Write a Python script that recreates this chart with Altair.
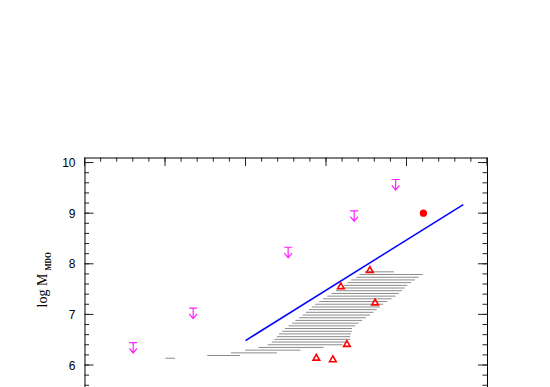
import altair as alt
import pandas as pd

# ---- data ----
# magenta upper limits (value = top bar of the arrow)
lim_x = [1.721, 1.870, 2.106, 2.270, 2.373]
lim_y = [6.444, 7.122, 8.327, 9.047, 9.665]
# red open triangles
tri_x = [2.309, 2.237, 2.322, 2.252, 2.176, 2.217]
tri_y = [7.887, 7.564, 7.244, 6.424, 6.153, 6.122]
# red filled circle
dot_x = [2.442]
dot_y = [9.0]
# blue relation
fit_x = [2.0, 2.541]
fit_y = [6.483, 9.171]
# grey hatched region: one horizontal segment per row
hatch_y = [7.841, 7.788, 7.734, 7.681, 7.628, 7.574, 7.521, 7.468, 7.414, 7.361,
           7.308, 7.254, 7.201, 7.147, 7.094, 7.041, 6.987, 6.934, 6.881, 6.827,
           6.774, 6.721, 6.667, 6.614, 6.560, 6.507, 6.454, 6.400, 6.347, 6.294,
           6.240, 6.187, 6.134]
hatch_x1 = [2.297, 2.283, 2.275, 2.263, 2.254, 2.245, 2.236, 2.225, 2.214, 2.203,
            2.193, 2.183, 2.173, 2.165, 2.158, 2.150, 2.142, 2.133, 2.124, 2.116,
            2.107, 2.098, 2.091, 2.083, 2.078, 2.072, 2.065, 2.055, 2.032, 1.999,
            1.964, 1.905, 1.801]
hatch_x2 = [2.369, 2.440, 2.430, 2.421, 2.411, 2.402, 2.396, 2.389, 2.381, 2.373,
            2.363, 2.352, 2.342, 2.334, 2.326, 2.318, 2.309, 2.299, 2.290, 2.281,
            2.273, 2.265, 2.264, 2.262, 2.260, 2.260, 2.251, 2.241, 2.194, 2.137,
            2.078, 1.986, 1.825]
# axis ticks
y_major = [6, 7, 8, 9, 10]
y_labels = [6, 7, 8, 9, 10]
x_major = [1.6, 1.8, 2.0, 2.2, 2.4, 2.6]

X_DOM = [1.6, 2.6]
Y_DOM = [5.2, 10.1]
W = 402.5
H = 248

y_minor = [round(Y_DOM[0] + 0.2 * i, 2) for i in range(25)]
x_minor = [round(X_DOM[0] + 0.04 * i, 2) for i in range(26)]

xs = alt.Scale(domain=X_DOM, nice=False, zero=False)
ys = alt.Scale(domain=Y_DOM, nice=False, zero=False)
YAX = alt.Axis(values=y_labels, ticks=False, tickSize=0, domain=False, grid=False,
               labelPadding=9.5, labelFont="Liberation Sans", labelFontSize=12,
               labelColor="black", title=None)


def X(f):
    return alt.X(f, type="quantitative", scale=xs, axis=None)


def Y(f):
    return alt.Y(f, type="quantitative", scale=ys, axis=YAX)


hatch = alt.Chart(pd.DataFrame({"x": hatch_x1, "x2": hatch_x2, "y": hatch_y})).mark_rule(
    color="#8c8c8c", strokeWidth=1
).encode(x=X("x"), x2="x2", y=Y("y"))

fit = alt.Chart(pd.DataFrame({"x": fit_x, "y": fit_y})).mark_line(
    color="#0000ff", strokeWidth=1.5
).encode(x=X("x"), y=Y("y"))

arrow_path = "M-0.73,0L0.73,0M0,0L0,1.9M-0.7,1.05L0,1.9L0.7,1.05"
limits = alt.Chart(pd.DataFrame({"x": lim_x, "y": lim_y})).mark_point(
    shape=arrow_path, size=121, filled=False, stroke="#ff22ff", strokeWidth=1.2, opacity=1
).encode(x=X("x"), y=Y("y"))

tris = alt.Chart(pd.DataFrame({"x": tri_x, "y": tri_y})).mark_point(
    shape="triangle-up", size=44, filled=False, stroke="#ff0000", strokeWidth=1.6, opacity=1
).encode(x=X("x"), y=Y("y"))

dot = alt.Chart(pd.DataFrame({"x": dot_x, "y": dot_y})).mark_point(
    shape="circle", size=52, filled=True, color="#ff0000", opacity=1
).encode(x=X("x"), y=Y("y"))

TICK = "#222222"


def yticks(vals, length):
    d = pd.DataFrame({"y": vals})
    left = alt.Chart(d).mark_rule(color=TICK, strokeWidth=1).encode(
        y=Y("y"), x=alt.value(0), x2=alt.value(length))
    right = alt.Chart(d).mark_rule(color=TICK, strokeWidth=1).encode(
        y=Y("y"), x=alt.value(W), x2=alt.value(W - length))
    return [left, right]


def xticks(vals, length):
    d = pd.DataFrame({"x": vals})
    top = alt.Chart(d).mark_rule(color=TICK, strokeWidth=1).encode(
        x=X("x"), y=alt.value(0), y2=alt.value(length))
    bot = alt.Chart(d).mark_rule(color=TICK, strokeWidth=1).encode(
        x=X("x"), y=alt.value(H), y2=alt.value(H - length))
    return [top, bot]


title_main = alt.Chart(pd.DataFrame({"t": ["log M"]})).mark_text(
    angle=270, align="left", baseline="alphabetic", font="Liberation Serif",
    fontSize=14, color="black"
).encode(x=alt.value(-38), y=alt.value(150), text="t:N")

title_sub = alt.Chart(pd.DataFrame({"t": ["MDO"]})).mark_text(
    angle=270, align="left", baseline="alphabetic", font="Liberation Serif",
    fontSize=7.5, fontWeight="bold", color="black"
).encode(x=alt.value(-34), y=alt.value(113), text="t:N")

layers = ([hatch, fit]
          + yticks(y_major, 9) + yticks(y_minor, 4.5)
          + xticks(x_major, 8.5) + xticks(x_minor, 4.2)
          + [limits, tris, dot, title_main, title_sub])

chart = alt.layer(*layers).properties(
    width=W, height=H,
    autosize=alt.AutoSizeParams(type="none"),
    padding={"left": 76.5, "top": 149.5, "right": 55, "bottom": -18.5},
    background="white",
).configure_view(stroke="black", strokeWidth=1)

chart.save("out.html", embed_options={"renderer": "svg", "actions": False})
